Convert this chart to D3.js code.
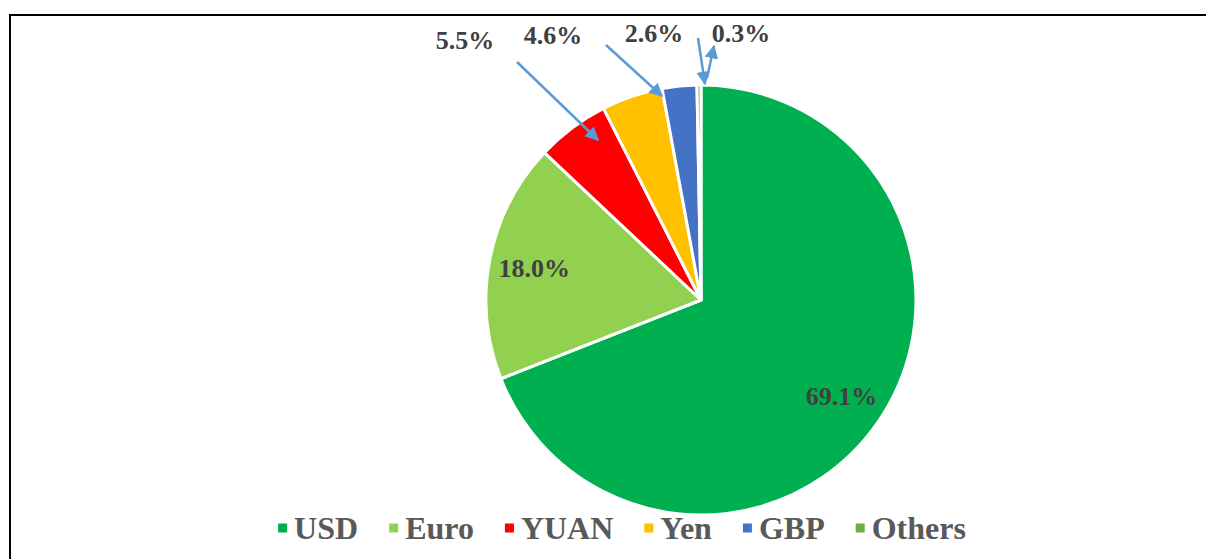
<!DOCTYPE html>
<html>
<head>
<meta charset="utf-8">
<script src="https://cdn.jsdelivr.net/npm/d3@7"></script>
<style>
  body { margin: 0; background: #fff; }
  svg { display: block; }
</style>
</head>
<body>
<svg></svg>
<script>
// currency shares, clockwise from 12 o'clock
let categories = ['USD', 'Euro', 'YUAN', 'Yen', 'GBP', 'Others']
let values = [69.1, 18.0, 5.5, 4.6, 2.6, 0.3]
let labels = ['69.1%', '18.0%', '5.5%', '4.6%', '2.6%', '0.3%']
let colors = ['#00B050', '#92D050', '#FF0000', '#FFC000', '#4472C4', '#70AD47']

let width = 1206
let height = 559
let cx = 701
let cy = 300
let radius = 215

// which labels sit inside the slice, the rest are called out with arrows
let insideLabel = [true, true, false, false, false, false]
// outside label spots (relative to pie centre) and arrow from/to
let outsideSpots = {
    YUAN:   { label: [-236, -260], from: [-184, -238], to: [-103, -160] },
    Yen:    { label: [-148, -265], from: [-95, -255], to: [-39, -204] },
    GBP:    { label: [-47, -267], from: [-3, -262], to: [4, -216] },
    Others: { label: [40, -267], from: [6, -222], to: [13, -254] }
}

let svg = d3.select('svg')
    .attr('width', width)
    .attr('height', height)

// frame
svg.append('path')
    .attr('d', 'M10,' + height + ' L10,15 L' + width + ',15')
    .attr('fill', 'none')
    .attr('stroke', '#000')
    .attr('stroke-width', 2)

svg.append('defs').append('marker')
    .attr('id', 'head')
    .attr('viewBox', '0 0 10 10')
    .attr('refX', 9)
    .attr('refY', 5)
    .attr('markerWidth', 5.5)
    .attr('markerHeight', 5.5)
    .attr('orient', 'auto')
    .append('path')
    .attr('d', 'M0,0 L10,5 L0,10 Z')
    .attr('fill', '#5B9BD5')

let pie = d3.pie().sort(null).value((d) => d)
let arcs = pie(values)

let arc = d3.arc().innerRadius(0).outerRadius(radius)
let labelArc = d3.arc().innerRadius(radius * 0.79).outerRadius(radius * 0.79)

let g = svg.append('g').attr('transform', 'translate(' + cx + ',' + cy + ')')

g.selectAll('path.slice')
    .data(arcs)
    .enter()
    .append('path')
    .attr('class', 'slice')
    .attr('d', arc)
    .attr('fill', (d, i) => colors[i])
    .attr('stroke', '#fff')
    .attr('stroke-width', 3)
    .attr('stroke-linejoin', 'round')

let labelFont = "'Liberation Serif', Georgia, serif"

arcs.forEach((d, i) => {
    if (insideLabel[i]) {
        let c = labelArc.centroid(d)
        g.append('text')
            .attr('x', c[0])
            .attr('y', c[1])
            .attr('dy', '0.35em')
            .attr('text-anchor', 'middle')
            .style('font-family', labelFont)
            .style('font-weight', 'bold')
            .style('font-size', '26px')
            .attr('fill', '#404040')
            .text(labels[i])
    } else {
        let spot = outsideSpots[categories[i]]
        g.append('line')
            .attr('x1', spot.from[0])
            .attr('y1', spot.from[1])
            .attr('x2', spot.to[0])
            .attr('y2', spot.to[1])
            .attr('stroke', '#5B9BD5')
            .attr('stroke-width', 2.5)
            .attr('marker-end', 'url(#head)')
        g.append('text')
            .attr('x', spot.label[0])
            .attr('y', spot.label[1])
            .attr('dy', '0.35em')
            .attr('text-anchor', 'middle')
            .style('font-family', labelFont)
            .style('font-weight', 'bold')
            .style('font-size', '26px')
            .attr('fill', '#404040')
            .text(labels[i])
    }
})

// legend, centred under the pie
let legend = svg.append('g')
let x = 0
categories.forEach((name, i) => {
    let item = legend.append('g')
    item.append('rect')
        .attr('x', 0)
        .attr('y', -4.5)
        .attr('width', 9)
        .attr('height', 9)
        .attr('fill', colors[i])
    let t = item.append('text')
        .attr('x', 16)
        .attr('y', 0)
        .attr('dy', '0.33em')
        .style('font-family', labelFont)
        .style('font-weight', 'bold')
        .style('font-size', '32px')
        .attr('fill', '#595959')
        .text(name)
    let w = 16 + t.node().getComputedTextLength()
    item.attr('transform', 'translate(' + x + ',0)')
    x += w + 31
})
let total = x - 31
legend.attr('transform', 'translate(' + (622 - total / 2) + ',528)')
</script>
</body>
</html>
